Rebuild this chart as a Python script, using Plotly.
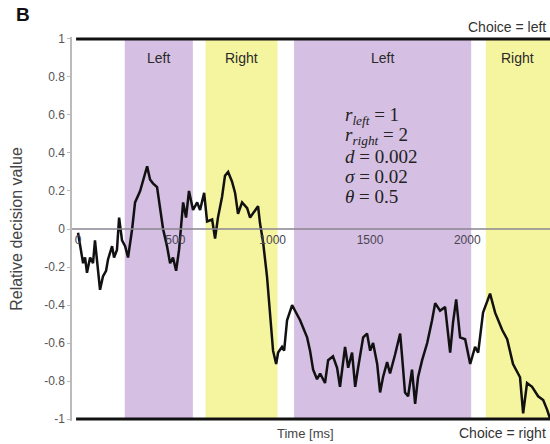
import plotly.graph_objects as go

# Relative decision value trace (time in ms, value)
time_ms = [0, 10, 26, 36, 46, 62, 77, 87, 98, 113, 128, 144, 154, 175, 185, 200, 211, 226, 242, 257,
           278, 293, 319, 339, 355, 370, 385, 406, 421, 437, 457, 473, 488, 504, 519, 540, 555, 570, 591, 612,
           627, 648, 663, 689, 704, 719, 740, 755, 771, 791, 807, 822, 843, 869, 884, 910, 925, 935, 951, 971,
           987, 997, 1002, 1018, 1028, 1048, 1059, 1074, 1100, 1115, 1141, 1177, 1192, 1208, 1228, 1244, 1269, 1285, 1310, 1331,
           1346, 1372, 1388, 1408, 1424, 1439, 1465, 1485, 1501, 1516, 1537, 1552, 1567, 1588, 1603, 1629, 1644, 1655, 1665, 1680,
           1696, 1716, 1732, 1747, 1768, 1794, 1819, 1835, 1860, 1886, 1912, 1927, 1943, 1963, 1989, 2015, 2040, 2056, 2081, 2117,
           2143, 2179, 2205, 2235, 2271, 2287, 2307, 2333, 2364, 2390, 2410, 2426]
decision = [-0.02, -0.09, -0.18, -0.15, -0.23, -0.15, -0.18, -0.06, -0.16, -0.32, -0.25, -0.22, -0.16, -0.09, -0.15, -0.11, 0.06, -0.06, -0.09, -0.15,
            0.0, 0.14, 0.20, 0.27, 0.33, 0.26, 0.24, 0.22, 0.10, 0.0, -0.09, -0.18, -0.15, -0.22, -0.11, 0.14, 0.06, 0.20, 0.10, 0.14,
            0.10, 0.19, 0.04, 0.05, -0.05, 0.06, 0.17, 0.28, 0.30, 0.25, 0.19, 0.08, 0.14, 0.11, 0.06, 0.10, 0.12, 0.03, -0.07, -0.25,
            -0.43, -0.57, -0.64, -0.71, -0.65, -0.62, -0.64, -0.48, -0.40, -0.43, -0.48, -0.57, -0.64, -0.74, -0.79, -0.76, -0.81, -0.69, -0.67, -0.73,
            -0.83, -0.62, -0.73, -0.65, -0.83, -0.73, -0.57, -0.55, -0.64, -0.60, -0.71, -0.86, -0.78, -0.70, -0.76, -0.66, -0.60, -0.55, -0.67, -0.86,
            -0.88, -0.74, -0.92, -0.78, -0.69, -0.60, -0.48, -0.39, -0.43, -0.41, -0.65, -0.49, -0.37, -0.57, -0.58, -0.71, -0.62, -0.65, -0.44, -0.34,
            -0.44, -0.53, -0.58, -0.71, -0.78, -0.97, -0.81, -0.83, -0.88, -0.90, -0.95, -1.0]

# Stimulus periods: label, start, end (ms)
period_labels = ["Left", "Right", "Left", "Right"]
period_start = [240, 655, 1110, 2095]
period_end = [590, 1025, 2020, 2425]
period_colors = {"Left": "#d5bfe3", "Right": "#f6f59f"}

x_ticks = [0, 500, 1000, 1500, 2000]
y_ticks = [1, 0.8, 0.6, 0.4, 0.2, 0, -0.2, -0.4, -0.6, -0.8, -1]
y_tick_text = ["1", "0.8", "0.6", "0.4", "0.2", "0", "-0.2", "-0.4", "-0.6", "-0.8", "-1"]

params = ["<i>r</i><sub><i>left</i></sub> = 1",
          "<i>r</i><sub><i>right</i></sub> = 2",
          "<i>d</i> = 0.002",
          "<i>σ</i> = 0.02",
          "<i>θ</i> = 0.5"]

X_MIN, X_MAX = -31, 2425
W, H = 550, 444
ML, MR, MT, MB = 72, 0, 37, 23
SANS = "Liberation Sans, Arial"


def px(xp, yp):
    """Page pixel position -> paper coordinates."""
    return (xp - ML) / (W - ML - MR), (H - MB - yp) / (H - MT - MB)


fig = go.Figure()

shapes = []
for lab, s, e in zip(period_labels, period_start, period_end):
    shapes.append(dict(type="rect", xref="x", yref="y", x0=s, x1=e, y0=-1, y1=1,
                       fillcolor=period_colors[lab], line=dict(width=0), layer="below"))

# zero line and decision thresholds
shapes.append(dict(type="line", xref="x", yref="y", x0=X_MIN, x1=X_MAX, y0=0, y1=0,
                   line=dict(color="#8a8490", width=1.5)))
for yv in (1, -1):
    shapes.append(dict(type="line", xref="x", yref="y", x0=-10, x1=X_MAX, y0=yv, y1=yv,
                       line=dict(color="#111111", width=3)))

fig.add_trace(go.Scatter(x=time_ms, y=decision, mode="lines",
                         line=dict(color="#111111", width=2.5), showlegend=False))

annotations = []
for lab, s, e in zip(period_labels, period_start, period_end):
    annotations.append(dict(x=(s + e) / 2, y=0.9, xref="x", yref="y", text=lab, showarrow=False,
                            xanchor="center", yanchor="middle",
                            font=dict(family=SANS, size=14, color="#2a2a2a")))

for i, p in enumerate(params):
    ax, ay = px(343, 116 + 20 * i)
    annotations.append(dict(x=ax, y=ay, xref="paper", yref="paper", text=p,
                            showarrow=False, xanchor="left", yanchor="middle",
                            font=dict(family="Liberation Serif, Times New Roman", size=19, color="#222222")))


def label(xp, yp, text, size, xanchor="center", color="#333333"):
    ax, ay = px(xp, yp)
    return dict(x=ax, y=ay, xref="paper", yref="paper", text=text, showarrow=False,
                xanchor=xanchor, yanchor="middle", font=dict(family=SANS, size=size, color=color))


annotations += [
    label(14, 14, "<b>B</b>", 19, xanchor="left", color="#111111"),
    label(548, 27, "Choice = left", 14, xanchor="right"),
    label(548, 433, "Choice = right", 14, xanchor="right"),
    label(305, 433, "Time [ms]", 13, color="#444444"),
]

fig.update_layout(
    width=W, height=H,
    margin=dict(l=ML, r=MR, t=MT, b=MB),
    paper_bgcolor="white", plot_bgcolor="white",
    shapes=shapes, annotations=annotations,
    xaxis=dict(range=[X_MIN, X_MAX], tickvals=x_ticks, ticktext=[str(v) for v in x_ticks],
               showgrid=False, zeroline=False, showline=False, ticks="",
               anchor="free", position=0.5, ticklabelstandoff=2,
               tickfont=dict(family=SANS, size=12, color="#4a4452")),
    yaxis=dict(range=[-1.01, 1.01], tickvals=y_ticks, ticktext=y_tick_text,
               showgrid=False, zeroline=False, showline=True, linecolor="#bbbbbb", linewidth=1.5,
               ticks="outside", ticklen=3, tickcolor="#bbbbbb",
               tickfont=dict(family=SANS, size=12, color="#555555"),
               title=dict(text="Relative decision value", standoff=18,
                          font=dict(family=SANS, size=16, color="#444444"))),
)

fig.write_html("out.html")
